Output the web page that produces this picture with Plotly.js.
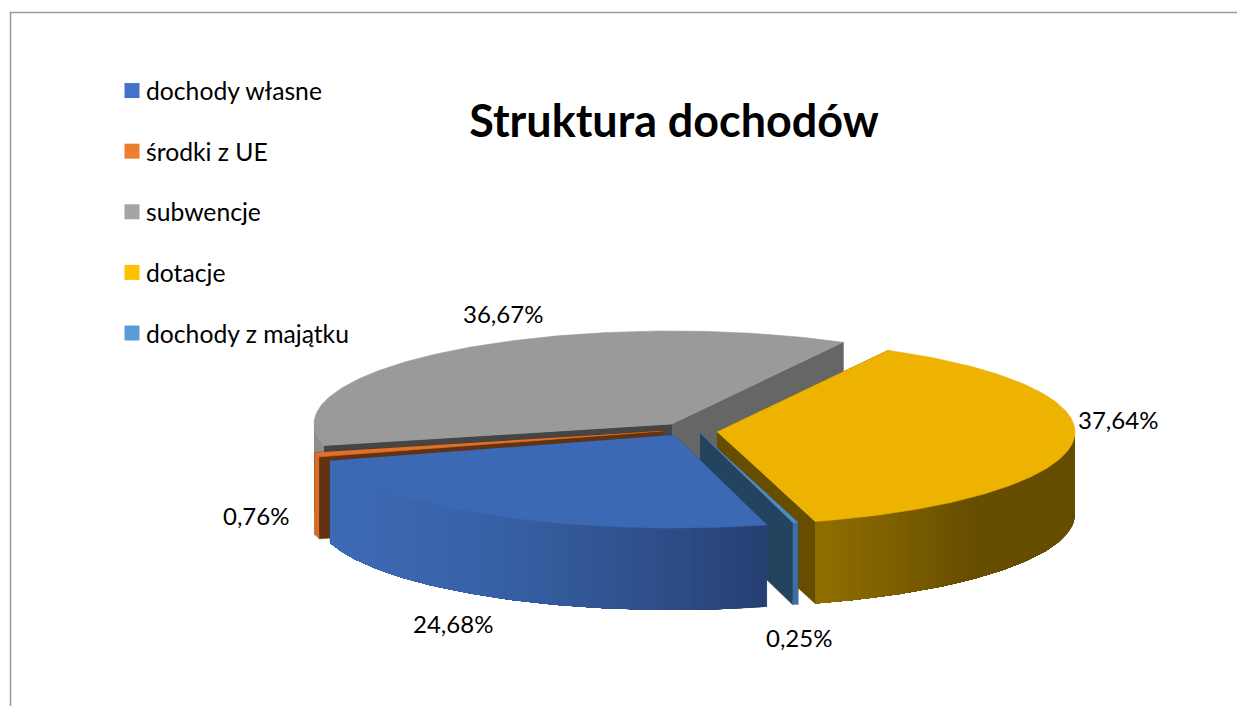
<!DOCTYPE html>
<html lang="pl">
<head>
<meta charset="utf-8">
<title>Struktura dochodów</title>
<script src="https://cdn.plot.ly/plotly-3.0.1.min.js"></script>
<style>html,body{margin:0;padding:0;background:#fff;overflow:hidden}#chart{width:1237px;height:706px}</style>
</head>
<body>
<div id="chart"></div>
<script>
// Data
const categories = ['dochody własne', 'środki z UE', 'subwencje', 'dotacje', 'dochody z majątku'];
const percents = [24.68, 0.76, 36.67, 37.64, 0.25];
const chartTitle = 'Struktura dochodów';

// Styles
const legendColors = ['#4472C4', '#ED7D31', '#A5A5A5', '#FFC000', '#5B9BD5'];
const topColors = ['#3C69B3', '#E0702A', '#9A9A9A', '#EEB200', '#4F8CC4'];
const startCutColors = ['#2A4A80', '#633210', '#454545', '#664D00', '#23435E'];
const endCutColors = ['#2A4A80', '#633210', '#666666', '#664D00', '#23435E'];
const wallFrom = ['#3D6AB4', '#D86C28', '#8E8E8E', '#664D00', '#3D709F'];
const wallTo = ['#263F72', '#D86C28', '#8E8E8E', '#906F00', '#3D709F'];

// Geometry (px of the page mapped to axis units)
const W = 1237, H = 706, RX = 358, RY = 93, CX = 672, CY = 424, DEPTH = 82 / RY;
const offsetsPx = [[2, 11], [-9, 7], [0, 0], [45, 8], [28, 9]];
const startAngle = 165;
const drawOrder = [2, 1, 3, 4, 0];

const rad = d => d * Math.PI / 180;
const hex = c => [1, 3, 5].map(i => parseInt(c.substr(i, 2), 16));
const mix = (a, b, t) => { const A = hex(a), B = hex(b); return 'rgb(' + A.map((v, i) => Math.round(v + (B[i] - v) * t)).join(',') + ')'; };

// slice angles from the values (degrees clockwise from the top)
let acc = startAngle;
const angles = percents.map(p => {
  let a = acc; acc += p * 3.6; let b = acc;
  if (a >= 360) { a -= 360; b -= 360; }
  return [a, b];
});

const rim = (i, a, dz = 0) => [offsetsPx[i][0] / RX + Math.sin(rad(a)), -offsetsPx[i][1] / RY + Math.cos(rad(a)) - dz];
const apex = (i, dz = 0) => [offsetsPx[i][0] / RX, -offsetsPx[i][1] / RY - dz];

const poly = (pts, color, lineW) => ({
  x: pts.map(p => p[0]), y: pts.map(p => p[1]), type: 'scatter', mode: 'lines', fill: 'toself',
  fillcolor: color, line: { color: color, width: lineW === undefined ? 0.6 : lineW }, showlegend: false, hoverinfo: 'skip'
});

const traces = [];
drawOrder.forEach(i => {
  const [a0, a1] = angles[i];
  // cut faces
  traces.push(poly([apex(i), rim(i, a1), rim(i, a1, DEPTH), apex(i, DEPTH)], endCutColors[i]));
  traces.push(poly([apex(i), rim(i, a0), rim(i, a0, DEPTH), apex(i, DEPTH)], startCutColors[i]));
  // outer wall, shaded in strips; only the front half of the rim is visible.
  // Each strip runs to the far end of the wall and the next one paints over it, so no seams show.
  const lo = Math.max(a0, 90), hi = Math.min(a1, 270);
  if (hi > lo) {
    const n = Math.max(1, Math.ceil(hi - lo));
    const xLo = Math.sin(rad(a0)), xHi = Math.sin(rad(a1));
    for (let k = 0; k < n; k++) {
      const s = lo + (hi - lo) * k / n;
      const mid = lo + (hi - lo) * (k + 0.5) / n;
      let t = 0;
      if (i === 0) t = Math.pow((Math.sin(rad(mid)) - xHi) / (xLo - xHi), 1.5);
      else if (i === 3) t = Math.max(0, 1 - (hi - mid) / 30);
      const top = [], bottom = [];
      const m = Math.max(1, Math.ceil(hi - s));
      for (let q = 0; q <= m; q++) {
        const a = s + (hi - s) * q / m;
        top.push(rim(i, a));
        bottom.unshift(rim(i, a, DEPTH));
      }
      traces.push(poly(top.concat(bottom), mix(wallFrom[i], wallTo[i], t), 0));
    }
  }
  // top
  const pts = [apex(i)];
  const steps = Math.max(2, Math.ceil(a1 - a0));
  for (let k = 0; k <= steps; k++) pts.push(rim(i, a0 + (a1 - a0) * k / steps));
  traces.push(poly(pts, topColors[i]));
});

// legend entries
categories.forEach((c, i) => traces.push({
  x: [null], y: [null], type: 'scatter', mode: 'markers', name: c, legendgroup: 'g' + i,
  marker: { symbol: 'square', size: 15, color: legendColors[i] }, hoverinfo: 'skip'
}));

// value labels
const labelPos = [[453, 623], [256, 515], [503, 313], [1118, 420], [799, 637]];
const annotations = percents.map((p, i) => ({
  text: p.toFixed(2).replace('.', ',') + '%', xref: 'paper', yref: 'paper',
  x: labelPos[i][0] / W, y: 1 - labelPos[i][1] / H, xanchor: 'center', yanchor: 'middle',
  showarrow: false, font: { family: 'Lato, sans-serif', size: 24, color: '#000' }
}));

const layout = {
  width: W, height: H, margin: { l: 0, r: 0, t: 0, b: 0, pad: 0 },
  paper_bgcolor: '#fff', plot_bgcolor: 'rgba(0,0,0,0)', hovermode: false, dragmode: false,
  title: { text: chartTitle, x: 674 / W, y: 1 - 121 / H, xref: 'paper', yref: 'paper', xanchor: 'center', yanchor: 'middle',
    font: { family: 'Lato, sans-serif', size: 44.9, color: '#000', weight: 700 } },
  xaxis: { visible: false, range: [-CX / RX, (W - CX) / RX], fixedrange: true },
  yaxis: { visible: false, range: [-(H - CY) / RY, CY / RY], fixedrange: true },
  legend: { x: 112 / W, y: 1 - 68 / H, xanchor: 'left', yanchor: 'top', bgcolor: 'rgba(0,0,0,0)',
    font: { family: 'Lato, sans-serif', size: 24.7, color: '#000' }, tracegroupgap: 25.5, itemwidth: 30, itemclick: false, itemdoubleclick: false },
  annotations: annotations,
  shapes: [
    { type: 'line', xref: 'paper', yref: 'paper', x0: 10 / W, x1: 1, y0: 1 - 12.5 / H, y1: 1 - 12.5 / H, line: { color: '#999', width: 1.5 } },
    { type: 'line', xref: 'paper', yref: 'paper', x0: 10.5 / W, x1: 10.5 / W, y0: 1 - 12 / H, y1: 0, line: { color: '#999', width: 1.5 } }
  ]
};
Plotly.newPlot('chart', traces, layout, { displayModeBar: false, responsive: false }).then(() => {
  // the reference keeps the legend text closer to its swatch
  document.querySelectorAll('#chart .legendtext').forEach(t => {
    t.setAttribute('x', parseFloat(t.getAttribute('x')) - 6);
  });
});
</script>
</body>
</html>
